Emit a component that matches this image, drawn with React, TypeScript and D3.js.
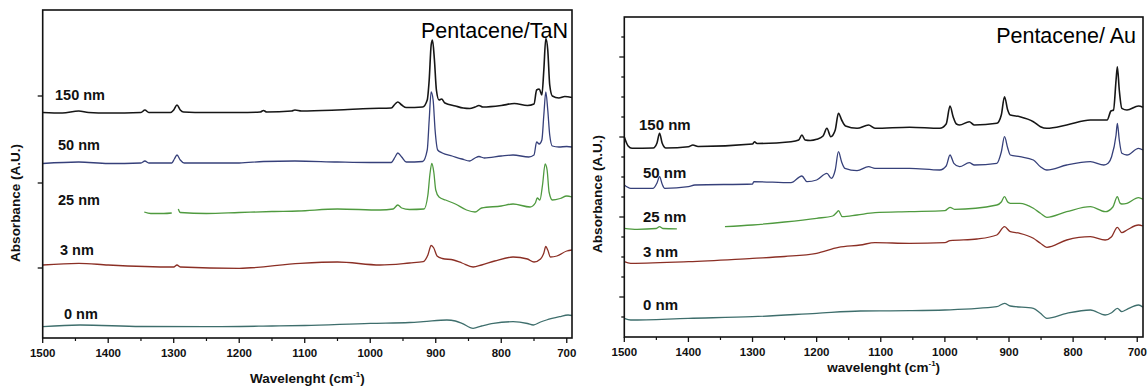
import * as d3 from "d3";
import React, { useEffect, useRef } from "react";

type Pt = [number, number];

// ---- shared labels / ticks ----
const thicknessLabels = ["150 nm", "50 nm", "25 nm", "3 nm", "0 nm"];
const xTickValues = [1500, 1400, 1300, 1200, 1100, 1000, 900, 800, 700];
const xMinorTickValues = [1450, 1350, 1250, 1150, 1050, 950, 850, 750];
const seriesColors = ["#161616", "#36407a", "#4f9a3f", "#8b2f25", "#3e6e6c"];

// ---- Pentacene/TaN spectra (wavenumber, absorbance a.u.) ----
const tan150: Pt[] = [
  [1500, 2.255], [1470, 2.25], [1445, 2.27], [1430, 2.255], [1400, 2.25], [1350, 2.255],
  [1344, 2.28], [1338, 2.255], [1305, 2.255], [1300, 2.28], [1295, 2.33], [1290, 2.28],
  [1285, 2.26], [1250, 2.255], [1200, 2.255], [1168, 2.26], [1163, 2.275], [1158, 2.26],
  [1120, 2.27], [1115, 2.28], [1105, 2.27], [1050, 2.28], [1000, 2.295], [968, 2.3],
  [962, 2.34], [958, 2.36], [952, 2.33], [945, 2.305], [920, 2.31], [913, 2.38],
  [910, 2.58], [907, 2.93], [905, 2.98], [902, 2.78], [899, 2.48], [895, 2.38],
  [891, 2.39], [886, 2.35], [870, 2.32], [858, 2.3], [848, 2.295], [840, 2.31],
  [834, 2.325], [828, 2.31], [800, 2.325], [780, 2.345], [760, 2.325], [750, 2.34],
  [746, 2.48], [742, 2.49], [738, 2.43], [735, 2.68], [732, 2.995], [729, 2.88],
  [726, 2.53], [722, 2.42], [712, 2.4], [703, 2.415], [692, 2.405],
];
const tan50: Pt[] = [
  [1500, 1.745], [1445, 1.76], [1400, 1.745], [1350, 1.75], [1344, 1.77], [1338, 1.75],
  [1303, 1.75], [1299, 1.79], [1295, 1.83], [1290, 1.78], [1284, 1.75], [1200, 1.75],
  [1163, 1.765], [1115, 1.77], [1050, 1.76], [1000, 1.755], [968, 1.755], [962, 1.81],
  [958, 1.85], [952, 1.81], [945, 1.76], [920, 1.765], [913, 1.88], [910, 2.18],
  [907, 2.46], [904, 2.38], [901, 2.08], [897, 1.88], [890, 1.85], [875, 1.82],
  [860, 1.79], [848, 1.77], [840, 1.8], [834, 1.815], [826, 1.8], [800, 1.82],
  [782, 1.83], [758, 1.81], [750, 1.83], [746, 1.96], [742, 1.94], [738, 1.98],
  [735, 2.23], [732, 2.46], [729, 2.28], [726, 2.03], [722, 1.92], [712, 1.91],
  [700, 1.915], [692, 1.91],
];
const tan25a: Pt[] = [[1345, 1.26], [1335, 1.245], [1315, 1.245], [1303, 1.25]];
const tan25b: Pt[] = [
  [1293, 1.29], [1290, 1.255], [1250, 1.245], [1200, 1.255], [1150, 1.265], [1110, 1.27],
  [1050, 1.29], [985, 1.28], [965, 1.29], [958, 1.33], [952, 1.3], [940, 1.285],
  [918, 1.29], [912, 1.43], [909, 1.63], [906, 1.745], [903, 1.66], [900, 1.48],
  [895, 1.41], [885, 1.38], [870, 1.34], [853, 1.28], [840, 1.26], [830, 1.3],
  [800, 1.32], [782, 1.34], [756, 1.31], [748, 1.35], [745, 1.4], [741, 1.38],
  [737, 1.53], [733, 1.74], [730, 1.68], [727, 1.46], [722, 1.38], [710, 1.395],
  [700, 1.42], [692, 1.41],
];
const tan3: Pt[] = [
  [1500, 0.73], [1445, 0.747], [1400, 0.73], [1300, 0.71], [1295, 0.73], [1290, 0.71],
  [1200, 0.697], [1107, 0.747], [1050, 0.76], [985, 0.73], [940, 0.75], [919, 0.763],
  [912, 0.83], [907, 0.925], [903, 0.9], [898, 0.82], [890, 0.795], [873, 0.78],
  [860, 0.75], [843, 0.71], [830, 0.73], [810, 0.77], [782, 0.81], [760, 0.79],
  [750, 0.76], [740, 0.79], [735, 0.85], [732, 0.915], [729, 0.88], [725, 0.81],
  [715, 0.82], [700, 0.87], [692, 0.88],
];
const tan0: Pt[] = [
  [1500, 0.113], [1443, 0.13], [1350, 0.115], [1250, 0.113], [1150, 0.12], [1100, 0.125],
  [1000, 0.147], [940, 0.155], [919, 0.163], [883, 0.18], [870, 0.17], [860, 0.147],
  [843, 0.097], [830, 0.12], [812, 0.147], [782, 0.163], [760, 0.145], [751, 0.13],
  [740, 0.16], [731, 0.18], [711, 0.213], [698, 0.23], [692, 0.225],
];

// ---- Pentacene/Au spectra ----
const au150: Pt[] = [
  [1500, 2.0], [1494, 1.91], [1488, 1.887], [1455, 1.89], [1449, 1.94], [1445, 2.037],
  [1441, 1.94], [1435, 1.89], [1400, 1.903], [1393, 1.92], [1385, 1.905], [1300, 1.93],
  [1297, 1.953], [1293, 1.935], [1240, 1.953], [1228, 1.97], [1223, 2.02], [1218, 1.97],
  [1210, 1.965], [1200, 1.977], [1190, 2.01], [1184, 2.087], [1178, 2.003], [1171, 2.07],
  [1166, 2.237], [1161, 2.17], [1155, 2.11], [1137, 2.087], [1119, 2.12], [1109, 2.087],
  [1055, 2.097], [1008, 2.087], [998, 2.13], [992, 2.31], [987, 2.2], [982, 2.13],
  [977, 2.12], [962, 2.153], [954, 2.12], [919, 2.137], [912, 2.22], [907, 2.403],
  [902, 2.27], [898, 2.22], [883, 2.203], [862, 2.153], [851, 2.103], [841, 2.087],
  [810, 2.12], [773, 2.17], [747, 2.17], [741, 2.26], [737, 2.27], [733, 2.57],
  [731, 2.703], [728, 2.47], [724, 2.287], [716, 2.27], [698, 2.31], [691, 2.297],
];
const au50: Pt[] = [
  [1500, 1.52], [1490, 1.487], [1455, 1.487], [1449, 1.54], [1445, 1.603], [1441, 1.53],
  [1437, 1.487], [1400, 1.503], [1390, 1.52], [1300, 1.53], [1298, 1.553], [1240, 1.543],
  [1223, 1.61], [1215, 1.553], [1200, 1.57], [1184, 1.637], [1177, 1.587], [1171, 1.67],
  [1166, 1.853], [1161, 1.75], [1156, 1.687], [1137, 1.663], [1119, 1.703], [1109, 1.687],
  [1055, 1.687], [1008, 1.67], [998, 1.71], [992, 1.82], [986, 1.737], [977, 1.703],
  [962, 1.743], [954, 1.72], [919, 1.737], [912, 1.85], [907, 2.003], [902, 1.89],
  [898, 1.82], [883, 1.803], [862, 1.77], [851, 1.703], [841, 1.67], [810, 1.72],
  [773, 1.753], [752, 1.72], [745, 1.74], [740, 1.803], [733, 2.02], [731, 2.137],
  [728, 1.97], [724, 1.837], [716, 1.82], [698, 1.887], [691, 1.87],
];
const au25a: Pt[] = [
  [1500, 1.087], [1480, 1.077], [1450, 1.085], [1445, 1.103], [1440, 1.085], [1418, 1.082],
];
const au25b: Pt[] = [
  [1343, 1.103], [1300, 1.12], [1250, 1.15], [1200, 1.187], [1175, 1.21], [1168, 1.25],
  [1166, 1.263], [1160, 1.203], [1137, 1.22], [1109, 1.243], [1055, 1.253], [1000, 1.263],
  [992, 1.297], [985, 1.277], [919, 1.32], [912, 1.35], [907, 1.403], [902, 1.35],
  [898, 1.337], [883, 1.337], [862, 1.287], [851, 1.237], [841, 1.197], [810, 1.253],
  [773, 1.303], [750, 1.253], [738, 1.3], [731, 1.403], [727, 1.34], [724, 1.33],
  [716, 1.337], [698, 1.393], [691, 1.377],
];
const au3: Pt[] = [
  [1500, 0.753], [1490, 0.737], [1400, 0.753], [1300, 0.787], [1250, 0.805], [1200, 0.837],
  [1166, 0.897], [1132, 0.92], [1109, 0.943], [1055, 0.937], [1000, 0.943], [992, 0.963],
  [950, 0.98], [919, 1.02], [907, 1.103], [898, 1.053], [883, 1.037], [862, 0.987],
  [851, 0.937], [841, 0.897], [810, 0.97], [773, 1.003], [750, 0.97], [740, 1.003],
  [731, 1.097], [724, 1.043], [716, 1.07], [698, 1.12], [691, 1.11],
];
const au0: Pt[] = [
  [1500, 0.187], [1490, 0.17], [1400, 0.187], [1300, 0.203], [1200, 0.237], [1132, 0.26],
  [1055, 0.263], [1000, 0.27], [919, 0.303], [907, 0.337], [898, 0.31], [862, 0.287],
  [851, 0.237], [841, 0.187], [810, 0.237], [773, 0.27], [750, 0.22], [740, 0.243],
  [731, 0.287], [724, 0.253], [716, 0.277], [698, 0.32], [691, 0.297],
];

interface PanelConfig {
  left: number;
  right: number;
  top: number;
  bottom: number;
  xDomain: [number, number];
  yDomain: [number, number];
  yTicks: number[];
  yMajorTicks: number[];
  series: Pt[][][]; // each series may have several segments
  labelPos: [number, number][];
  labelSize: number;
  title: string;
  titlePos: [number, number];
  xTitle: string;
  xTitleY: number;
  yTitleX: number;
  yTitleY: number;
}

const FONT = "'Liberation Sans', Arial, Helvetica, sans-serif";

function drawPanel(svg: d3.Selection<SVGSVGElement, unknown, null, undefined>, p: PanelConfig) {
  const x = d3.scaleLinear().domain(p.xDomain).range([p.left, p.right]);
  const y = d3.scaleLinear().domain(p.yDomain).range([p.bottom, p.top]);
  const g = svg.append("g");

  // spectra
  const line = d3
    .line<Pt>()
    .x((d) => x(d[0]))
    .y((d) => y(d[1]))
    .curve(d3.curveMonotoneX);

  p.series.forEach((segs, i) => {
    segs.forEach((seg) => {
      g.append("path")
        .attr("d", line(seg))
        .attr("fill", "none")
        .attr("stroke", seriesColors[i])
        .attr("stroke-width", i === 0 ? 1.6 : 1.3)
        .attr("stroke-linejoin", "round");
    });
  });

  // frame
  g.append("rect")
    .attr("x", p.left)
    .attr("y", p.top)
    .attr("width", p.right - p.left)
    .attr("height", p.bottom - p.top)
    .attr("fill", "none")
    .attr("stroke", "#111")
    .attr("stroke-width", 1.6);

  // x ticks
  g.selectAll(".xmaj")
    .data(xTickValues)
    .join("line")
    .attr("x1", (d) => x(d))
    .attr("x2", (d) => x(d))
    .attr("y1", p.bottom)
    .attr("y2", p.bottom + 5)
    .attr("stroke", "#111")
    .attr("stroke-width", 1.3);
  g.selectAll(".xmin")
    .data(xMinorTickValues)
    .join("line")
    .attr("x1", (d) => x(d))
    .attr("x2", (d) => x(d))
    .attr("y1", p.bottom)
    .attr("y2", p.bottom + 3)
    .attr("stroke", "#111")
    .attr("stroke-width", 1.2);
  g.selectAll(".xlab")
    .data(xTickValues)
    .join("text")
    .attr("x", (d) => x(d))
    .attr("y", p.bottom + 19)
    .attr("text-anchor", "middle")
    .attr("font-family", FONT)
    .attr("font-weight", "bold")
    .attr("font-size", 11.5)
    .attr("fill", "#111")
    .text((d) => String(d));

  // y ticks (unlabelled)
  g.selectAll(".ytk")
    .data(p.yTicks)
    .join("line")
    .attr("x1", p.left)
    .attr("x2", (d) => p.left - (p.yMajorTicks.includes(d) ? 5 : 3))
    .attr("y1", (d) => y(d))
    .attr("y2", (d) => y(d))
    .attr("stroke", "#111")
    .attr("stroke-width", 1.3);

  // thickness labels
  g.selectAll(".slab")
    .data(thicknessLabels)
    .join("text")
    .attr("x", (_, i) => p.labelPos[i][0])
    .attr("y", (_, i) => p.labelPos[i][1])
    .attr("font-family", FONT)
    .attr("font-weight", "bold")
    .attr("font-size", p.labelSize)
    .attr("fill", "#111")
    .text((d) => d);

  // panel title
  g.append("text")
    .attr("x", p.titlePos[0])
    .attr("y", p.titlePos[1])
    .attr("text-anchor", "end")
    .attr("font-family", FONT)
    .attr("font-size", 21.5)
    .attr("fill", "#000")
    .text(p.title);

  // x title
  const xt = g
    .append("text")
    .attr("x", (p.left + p.right) / 2)
    .attr("y", p.xTitleY)
    .attr("text-anchor", "middle")
    .attr("font-family", FONT)
    .attr("font-weight", "bold")
    .attr("font-size", 13.5)
    .attr("fill", "#111");
  xt.append("tspan").text(`${p.xTitle} (cm`);
  xt.append("tspan").attr("dy", -6).attr("font-size", 8).text("-1");
  xt.append("tspan").attr("dy", 6).text(")");

  // y title
  g.append("text")
    .attr("transform", `translate(${p.yTitleX},${p.yTitleY}) rotate(-90)`)
    .attr("text-anchor", "middle")
    .attr("font-family", FONT)
    .attr("font-weight", "bold")
    .attr("font-size", 13.5)
    .attr("fill", "#111")
    .text("Absorbance (A.U.)");
}

export default function App() {
  const svgRef = useRef<SVGSVGElement | null>(null);

  useEffect(() => {
    if (!svgRef.current) return;
    const svg = d3.select(svgRef.current);
    svg.selectAll("*").remove();

    drawPanel(svg, {
      left: 42.7,
      right: 572,
      top: 10,
      bottom: 338,
      xDomain: [1500, 692],
      yDomain: [0, 3.28],
      yTicks: [0.7, 1.55, 2.42],
      yMajorTicks: [0.7, 1.55, 2.42],
      series: [[tan150], [tan50], [tan25a, tan25b], [tan3], [tan0]],
      labelPos: [[55, 100], [58, 150], [58, 205], [60, 255], [64, 319]],
      labelSize: 14.5,
      title: "Pentacene/TaN",
      titlePos: [568, 38],
      xTitle: "Wavelenght",
      xTitleY: 383,
      yTitleX: 20,
      yTitleY: 203,
    });

    const auTicks = d3.range(1, 16).map((k) => +(k * 0.2).toFixed(1));
    drawPanel(svg, {
      left: 624.3,
      right: 1143,
      top: 17,
      bottom: 337,
      xDomain: [1500, 691],
      yDomain: [0, 3.2],
      yTicks: auTicks,
      yMajorTicks: [0.4, 1.2, 2.0, 2.8],
      series: [[au150], [au50], [au25a, au25b], [au3], [au0]],
      labelPos: [[639, 130], [643, 178], [643, 222], [643, 257], [643, 310]],
      labelSize: 15,
      title: "Pentacene/ Au",
      titlePos: [1136, 43],
      xTitle: "wavelenght",
      xTitleY: 372,
      yTitleX: 602,
      yTitleY: 194,
    });
  }, []);

  return (
    <svg
      ref={svgRef}
      width={1148}
      height={388}
      style={{ position: "absolute", left: 0, top: 0, background: "#fff" }}
    />
  );
}
